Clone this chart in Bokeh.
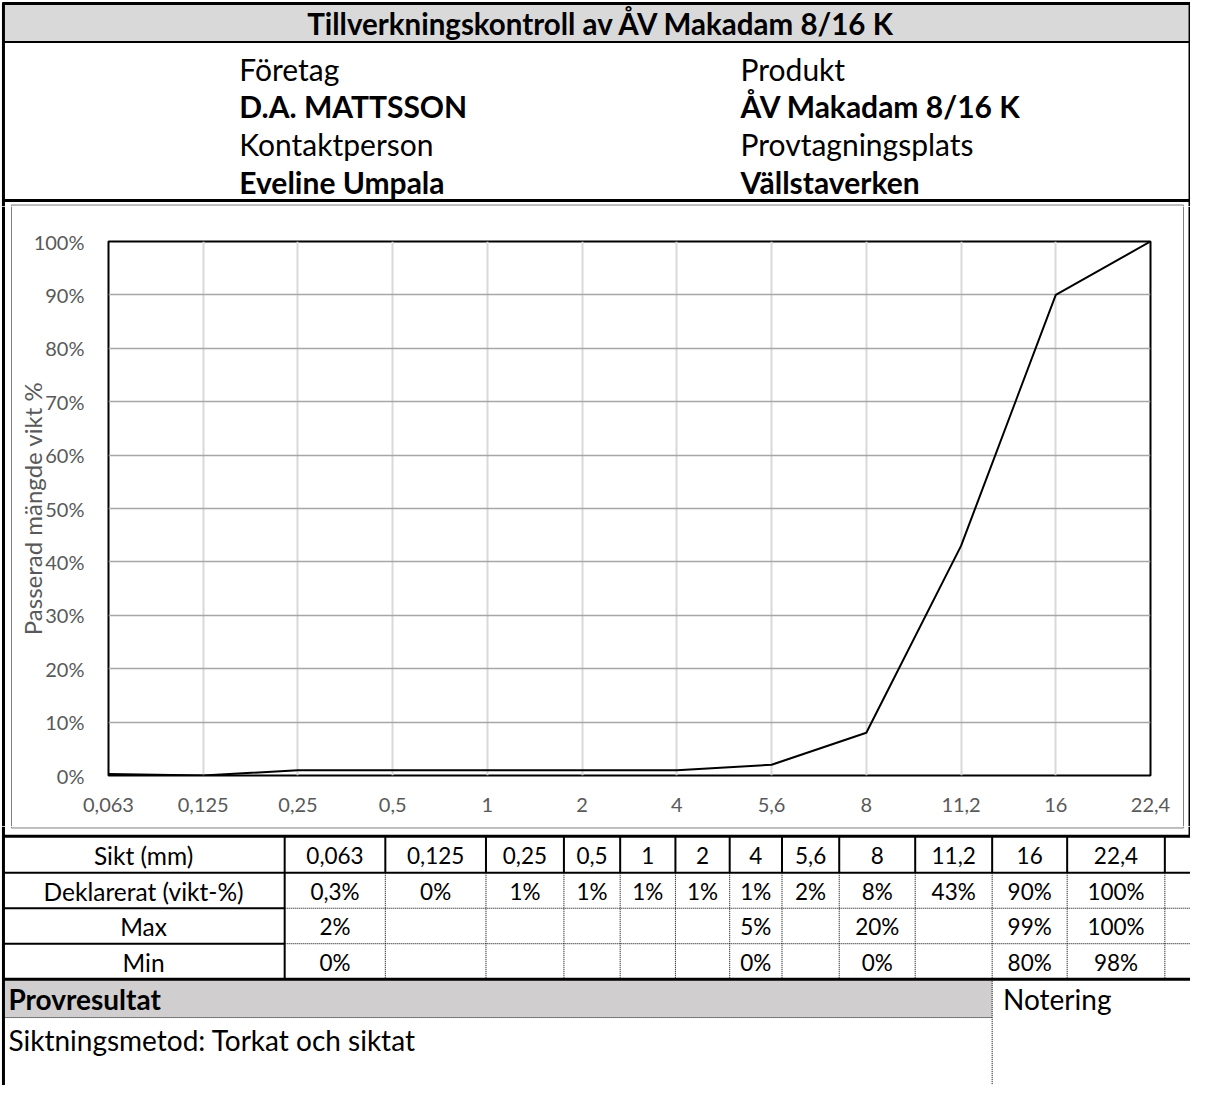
from bokeh.plotting import figure
from bokeh.layouts import column, row
from bokeh.models import FixedTicker, Range1d
from bokeh.core.properties import value
from bokeh.embed import file_html
from bokeh.resources import INLINE

# ---------------- data ----------------
title_text = "Tillverkningskontroll av ÅV Makadam 8/16 K"
info_left = ["Företag", "D.A. MATTSSON", "Kontaktperson", "Eveline Umpala"]
info_right = ["Produkt", "ÅV Makadam 8/16 K", "Provtagningsplats", "Vällstaverken"]
sieve_labels = ["0,063", "0,125", "0,25", "0,5", "1", "2", "4", "5,6", "8", "11,2", "16", "22,4"]
declared = [0.3, 0, 1, 1, 1, 1, 1, 2, 8, 43, 90, 100]
max_limits = [2, None, None, None, None, None, 5, None, 20, None, 99, 100]
min_limits = [0, None, None, None, None, None, 0, None, 0, None, 80, 98]
y_ticks = [0, 10, 20, 30, 40, 50, 60, 70, 80, 90, 100]
row_labels = ["Sikt (mm)", "Deklarerat (vikt-%)", "Max", "Min"]
y_title = "Passerad mängde vikt %"
result_title = "Provresultat"
result_text = "Siktningsmetod: Torkat och siktat"
note_title = "Notering"


def pct(v):
    if v is None:
        return ""
    return (("%g" % v).replace(".", ",")) + "%"


FONT = "Lato"
W = 1190
REF_W = 1206


def page_fig(w, h, x0, x1, y_top, y_bot):
    f = figure(width=w, height=h, x_range=Range1d(x0, x1), y_range=Range1d(y_bot, y_top),
               output_backend="svg", toolbar_location=None, min_border=0,
               x_axis_location=None, y_axis_location=None, frame_align=False)
    f.grid.visible = False
    f.outline_line_color = None
    f.background_fill_color = "white"
    f.border_fill_color = "white"
    return f


def txt(f, x, y, s, size, align="left", bold=False, color="black"):
    f.text(x=[x], y=[y], text=[s], text_font=value(FONT), text_font_size=size,
           text_align=align, text_baseline="middle", text_color=color,
           text_font_style="bold" if bold else "normal")


# ---------------- header (ref y 0..209) ----------------
hdr = page_fig(W, 206, 0, REF_W, 0, 209)
hdr.quad(left=[4], right=[1204], top=[4], bottom=[42], fill_color="#d9d9d9", line_color=None)
hdr.segment(x0=[2, 2, 2, 3, 1205], y0=[3, 42, 203, 2, 2], x1=[1206, 1206, 1206, 3, 1205],
            y1=[3, 42, 203, 209, 209], line_color="black", line_width=[3, 2, 3, 3, 2])
hdr.segment(x0=[11], y0=[207.5], x1=[1199], y1=[207.5], line_color="#7f7f7f", line_width=1)
hdr.segment(x0=[11, 1199], y0=[207.5, 207.5], x1=[11, 1199], y1=[209, 209], line_color="#7f7f7f", line_width=1)
txt(hdr, 609, 23, title_text, "29.5px", align="center", bold=True)
for i, (a, b) in enumerate(zip(info_left, info_right)):
    yy = [69, 107, 146, 184][i]
    txt(hdr, 242, yy, a, "30px", bold=(i % 2 == 1))
    txt(hdr, 750, yy, b, "30px", bold=(i % 2 == 1))

# ---------------- chart row (ref y 209..838) ----------------
MH = 620
lstrip = page_fig(14, MH, 0, 14, 209, 838)
lstrip.segment(x0=[3, 11], y0=[209, 209], x1=[3, 11], y1=[838, 838],
               line_color=["black", "#7f7f7f"], line_width=[3, 1])
rstrip = page_fig(14, MH, 1192, 1206, 209, 838)
rstrip.segment(x0=[1199, 1205], y0=[209, 209], x1=[1199, 1205], y1=[838, 838],
               line_color=["#7f7f7f", "black"], line_width=[1, 2])

n = len(sieve_labels)
ch = figure(width=W - 28, height=MH, x_range=Range1d(0, n - 1), y_range=Range1d(0, 100),
            output_backend="svg", toolbar_location=None, frame_align=False,
            min_border_left=90, min_border_right=26, min_border_top=35, min_border_bottom=51)
ch.background_fill_color = "white"
ch.border_fill_color = "white"
ch.outline_line_color = "black"
ch.outline_line_width = 2
ch.xaxis.ticker = FixedTicker(ticks=list(range(n)))
ch.xaxis.major_label_overrides = {i: s for i, s in enumerate(sieve_labels)}
ch.yaxis.ticker = FixedTicker(ticks=y_ticks)
ch.yaxis.major_label_overrides = {t: "%d%%" % t for t in y_ticks}
for ax in (ch.xaxis[0], ch.yaxis[0]):
    ax.axis_line_color = None
    ax.major_tick_line_color = None
    ax.minor_tick_line_color = None
    ax.major_label_text_font = FONT
    ax.major_label_text_font_size = "20px"
    ax.major_label_text_color = "#595959"
ch.xaxis.major_label_standoff = 16
ch.yaxis.major_label_standoff = 18
ch.yaxis.axis_label = y_title
ch.yaxis.axis_label_text_font = FONT
ch.yaxis.axis_label_text_font_size = "24px"
ch.yaxis.axis_label_text_font_style = "normal"
ch.yaxis.axis_label_text_color = "#595959"
ch.yaxis.axis_label_standoff = -16
ch.xgrid.grid_line_color = "#d9d9d9"
ch.xgrid.grid_line_width = 2
ch.ygrid.grid_line_color = "#a6a6a6"
ch.ygrid.grid_line_width = 1.5
ch.line(x=list(range(n)), y=declared, line_color="black", line_width=2)

# ---------------- table (ref y 838..1101) ----------------
tb = page_fig(W, 259, 0, REF_W, 838, 1101)
edges = [288, 390, 492, 571, 628, 684, 739, 792, 850, 927, 1005, 1081, 1180, 1206]
row_y = [848, 885, 921, 957, 993]
tb.segment(x0=[11, 11, 1199], y0=[839.5, 838, 838], x1=[1199, 11, 1199], y1=[839.5, 839.5, 839.5],
           line_color="#7f7f7f", line_width=1)
tb.quad(left=[3], right=[1005], top=[993], bottom=[1032], fill_color="#d0cece", line_color=None)
# solid lines
sx0 = [2, 2, 3, 3, 2, 3, 1205, 288] + edges[1:-1]
sy0 = [848, 885, 921, 957, 993, 838, 838, 848] + [848] * (len(edges) - 2)
sx1 = [1206, 1206, 288, 288, 1206, 3, 1205, 288] + edges[1:-1]
sy1 = [848, 885, 921, 957, 993, 1101, 848, 993] + [885] * (len(edges) - 2)
sw = [3, 2, 2, 2, 3, 3, 2, 2] + [2] * (len(edges) - 2)
tb.segment(x0=sx0, y0=sy0, x1=sx1, y1=sy1, line_color="black", line_width=sw)
# dotted lines
dx0 = [288, 288, 3, 1005] + edges[1:-1]
dy0 = [921, 957, 1032, 993] + [885] * (len(edges) - 2)
dx1 = [1206, 1206, 1005, 1005] + edges[1:-1]
dy1 = [921, 957, 1032, 1101] + [993] * (len(edges) - 2)
tb.segment(x0=dx0, y0=dy0, x1=dx1, y1=dy1, line_color="black", line_width=1, line_dash="1 1")

rows = [sieve_labels, [pct(v) for v in declared], [pct(v) for v in max_limits], [pct(v) for v in min_limits]]
for r, (lab, vals) in enumerate(zip(row_labels, rows)):
    cy = (row_y[r] + row_y[r + 1]) / 2 + 1
    txt(tb, 145, cy, lab, "24.5px", align="center")
    for i, s in enumerate(vals):
        if s:
            txt(tb, (edges[i] + edges[i + 1]) / 2, cy, s, "22.5px", align="center")
txt(tb, 8, 1013, result_title, "28px", bold=True)
txt(tb, 1016, 1013, note_title, "28px")
txt(tb, 8, 1055, result_text, "28px")

page = column(hdr, row(lstrip, ch, rstrip, spacing=0), tb, spacing=0)
open("out.html", "w").write(file_html(page, INLINE))
